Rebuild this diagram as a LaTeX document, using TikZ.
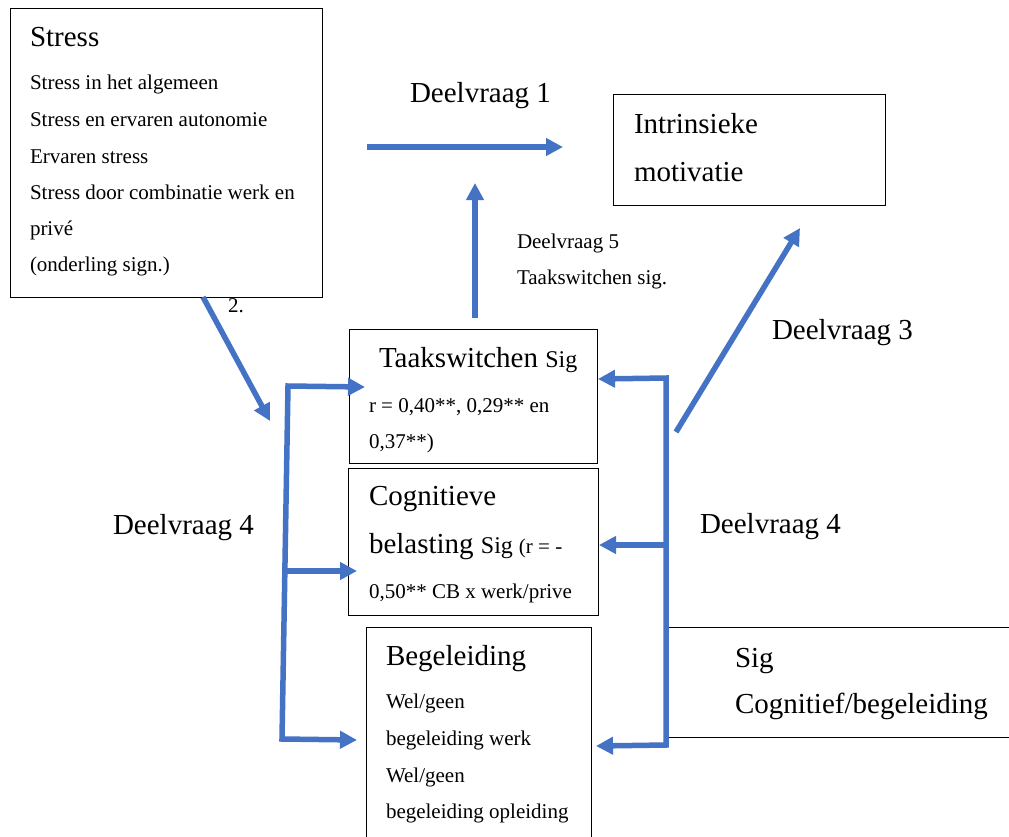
\documentclass[tikz,border=0pt]{standalone}
\usepackage{fontspec}
\setmainfont{Liberation Serif}
\usetikzlibrary{arrows.meta}
\definecolor{arrblue}{HTML}{4472C4}
\newcommand\fbig{\fontsize{29}{34}\selectfont}
\newcommand\fmid{\fontsize{24}{28}\selectfont}
\newcommand\fsml{\fontsize{21}{25}\selectfont}
\begin{document}
\begin{tikzpicture}[x=1pt,y=-1pt,
  box/.style={draw=black, line width=1pt, inner sep=0pt, outer sep=0pt, anchor=north west},
  txt/.style={anchor=base west, inner sep=0pt, outer sep=0pt},
  tip/.style={Triangle[length=17pt,width=17pt]},
  barrow/.style={draw=arrblue, line width=5.5pt, -{Triangle[length=17pt,width=17pt]}},
  bbarrow/.style={draw=arrblue, line width=5.5pt, line join=miter, {Triangle[length=17pt,width=17pt]}-{Triangle[length=17pt,width=17pt]}}
]
\useasboundingbox (0,0) rectangle (1009,836);
\fill[white] (0,0) rectangle (1009,836);
\clip (0,0) rectangle (1009,836);

% boxes
\node[box, minimum width=312pt, minimum height=289pt] (stress) at (10,8) {};
\node[box, minimum width=272pt, minimum height=111pt] (intr) at (613,94) {};
\node[box, minimum width=248pt, minimum height=134pt] (taak) at (349,329) {};
\node[box, minimum width=250pt, minimum height=147pt] (cog) at (348,468) {};
\node[box, minimum width=225pt, minimum height=230pt] (beg) at (366,627) {};
\node[box, minimum width=370pt, minimum height=110pt] (sigbox) at (666,627) {};

% texts
\node[txt] (tstress) at (30,46) {\fbig Stress};
\node[txt] (ts1) at (30,89) {\fsml Stress in het algemeen};
\node[txt] (ts2) at (30,126) {\fsml Stress en ervaren autonomie};
\node[txt] (ts3) at (30,163) {\fsml Ervaren stress};
\node[txt] (ts4) at (30,199) {\fsml Stress door combinatie werk en};
\node[txt] (ts5) at (30,235) {\fsml privé};
\node[txt] (ts6) at (30,271) {\fsml (onderling sign.)};

\node[txt] (tdv1) at (410,102) {\fbig Deelvraag 1};
\node[txt] (tintr1) at (634,133) {\fbig Intrinsieke};
\node[txt] (tintr2) at (634,181) {\fbig motivatie};
\node[txt] (tdv5) at (517,248) {\fsml Deelvraag 5};
\node[txt] (tdv5b) at (517,284) {\fsml Taakswitchen sig.};
\node[txt] (tdv3) at (772,339) {\fbig Deelvraag 3};
\node[txt] (ttwo) at (228,312) {\fsml 2.};

\node[txt] (ttaak1) at (379,367) {\fbig Taakswitchen \fmid Sig};
\node[txt] (ttaak2) at (369,412) {\fsml r = 0,40**, 0,29** en};
\node[txt] (ttaak3) at (369,448) {\fsml 0,37**)};

\node[txt] (tcog1) at (369,505) {\fbig Cognitieve};
\node[txt] (tcog2) at (369,553) {\fbig belasting \fmid Sig \fsml (r = -};
\node[txt] (tcog3) at (369,598) {\fsml 0,50** CB x werk/prive};

\node[txt] (tbeg1) at (386,665) {\fbig Begeleiding};
\node[txt] (tbeg2) at (386,708) {\fsml Wel/geen};
\node[txt] (tbeg3) at (386,745) {\fsml begeleiding werk};
\node[txt] (tbeg4) at (386,782) {\fsml Wel/geen};
\node[txt] (tbeg5) at (386,818) {\fsml begeleiding opleiding};

\node[txt] (tsig1) at (735,667) {\fbig Sig};
\node[txt] (tsig2) at (735,713) {\fbig Cognitief/begeleiding};

\node[txt] (tdv4l) at (113,534) {\fbig Deelvraag 4};
\node[txt] (tdv4r) at (700,533) {\fbig Deelvraag 4};

% arrow end points
\coordinate (s2a) at (203,297);
\coordinate (s2b) at (270,421);
\coordinate (d1a) at (367,147);
\coordinate (d1b) at (563,147);
\coordinate (d5a) at (475,318);
\coordinate (d5b) at (475,183);
\coordinate (d3a) at (676,432);
\coordinate (d3b) at (800,228);

\coordinate (lbtip) at (357,740);
\coordinate (lbcor) at (282,739);
\coordinate (ltcor) at (288,386);
\coordinate (lttip) at (365,387);
\coordinate (lma) at (285,571);
\coordinate (lmb) at (357,571);

\coordinate (rbtip) at (596,746);
\coordinate (rbcor) at (666,745);
\coordinate (rtcor) at (666,378);
\coordinate (rttip) at (598,379);
\coordinate (rma) at (666,545);
\coordinate (rmb) at (599,545);

% arrows
\draw[barrow] (s2a) -- (s2b);
\draw[barrow] (d1a) -- (d1b);
\draw[barrow] (d5a) -- (d5b);
\draw[barrow] (d3a) -- (d3b);

\draw[bbarrow] (lbtip) -- (lbcor) -- (ltcor) -- (lttip);
\draw[barrow] (lma) -- (lmb);

\draw[bbarrow] (rbtip) -- (rbcor) -- (rtcor) -- (rttip);
\draw[barrow] (rma) -- (rmb);
\end{tikzpicture}
\end{document}
